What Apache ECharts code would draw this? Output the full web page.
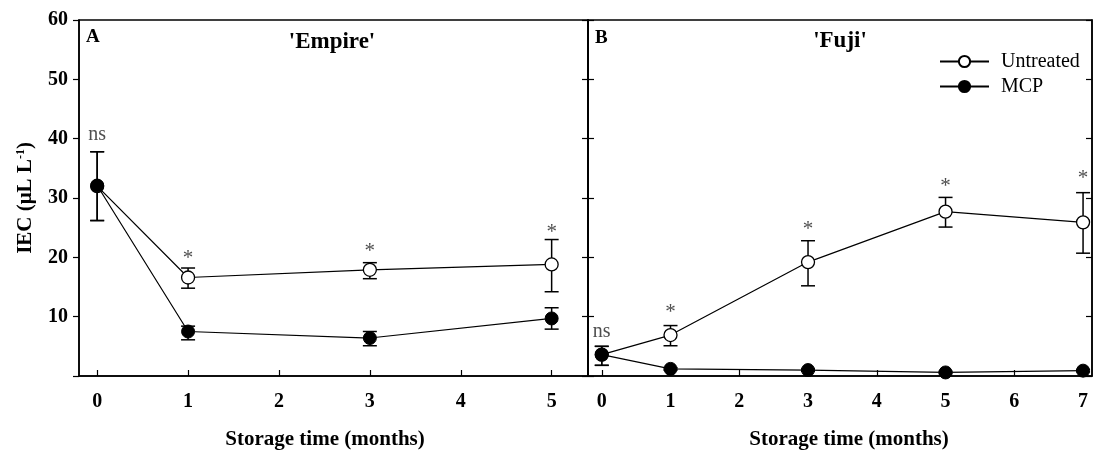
<!DOCTYPE html>
<html>
<head>
<meta charset="utf-8">
<script src="https://cdn.jsdelivr.net/npm/echarts@6/dist/echarts.min.js"></script>
<style>html,body{margin:0;padding:0;background:#fff}#c{width:1093px;height:450px}</style>
</head>
<body>
<div id="c"></div>
<script>
// ---- data ----
const empireMonths = [0, 1, 3, 5];
const empireUntreated = [32.0, 16.6, 17.9, 18.8];
const empireUntreatedLow = [26.2, 14.8, 16.4, 14.2];
const empireUntreatedHigh = [37.8, 18.2, 19.1, 23.0];
const empireMCP = [32.1, 7.5, 6.4, 9.7];
const empireMCPLow = [26.2, 6.1, 5.1, 7.9];
const empireMCPHigh = [37.8, 8.4, 7.5, 11.5];
const empireSig = ['ns', '*', '*', '*'];
const empireSigY = [40.6, 20.6, 21.8, 25.0];

const fujiMonths = [0, 1, 3, 5, 7];
const fujiUntreated = [3.6, 6.9, 19.2, 27.7, 25.9];
const fujiUntreatedLow = [1.8, 5.1, 15.2, 25.1, 20.7];
const fujiUntreatedHigh = [5.0, 8.5, 22.8, 30.1, 30.9];
const fujiMCP = [3.6, 1.2, 1.0, 0.6, 0.9];
const fujiMCPLow = [1.8, 1.0, 0.8, 0.4, 0.7];
const fujiMCPHigh = [5.0, 1.4, 1.2, 0.8, 1.1];
const fujiSig = ['ns', '*', '*', '*', '*'];
const fujiSigY = [7.4, 11.5, 25.5, 32.7, 34.2];

const empireTicks = [0, 1, 2, 3, 4, 5];
const fujiTicks = [0, 1, 2, 3, 4, 5, 6, 7];
const yTicks = [10, 20, 30, 40, 50, 60];

// ---- helpers ----
const SERIF = '"Liberation Serif", "Times New Roman", serif';
const pairs = (xs, ys) => xs.map((x, i) => [x, ys[i]]);
const triples = (xs, lo, hi) => xs.map((x, i) => [x, lo[i], hi[i]]);

function errRender(params, api) {
  const x = api.value(0);
  const lo = api.coord([x, api.value(1)]);
  const hi = api.coord([x, api.value(2)]);
  const cw = 7;
  const st = { stroke: '#000', lineWidth: 1.5, fill: null };
  return {
    type: 'group',
    children: [
      { type: 'line', shape: { x1: lo[0], y1: lo[1], x2: hi[0], y2: hi[1] }, style: st },
      { type: 'line', shape: { x1: hi[0] - cw, y1: hi[1], x2: hi[0] + cw, y2: hi[1] }, style: st },
      { type: 'line', shape: { x1: lo[0] - cw, y1: lo[1], x2: lo[0] + cw, y2: lo[1] }, style: st }
    ]
  };
}

function xAxisFor(gridIndex, min, max, ticks, padLeft) {
  return {
    type: 'value', gridIndex, min, max,
    axisLine: { show: true, onZero: false, lineStyle: { color: '#000', width: 1.5 } },
    axisTick: { show: true, inside: true, length: 6, customValues: ticks, lineStyle: { color: '#000', width: 1.2 } },
    axisLabel: { show: true, customValues: ticks, margin: 16, color: '#000', fontFamily: SERIF, fontWeight: 'bold', fontSize: 20 },
    splitLine: { show: false },
    name: 'Storage time (months)', nameLocation: 'middle', nameGap: 53,
    nameTextStyle: { color: '#000', fontFamily: SERIF, fontWeight: 'bold', fontSize: 21, padding: padLeft }
  };
}

function yAxisFor(gridIndex, position, showLabels, inside) {
  return {
    type: 'value', gridIndex, position, min: 0, max: 60, interval: 10,
    axisLine: { show: true, onZero: false, lineStyle: { color: '#000', width: 1.5 } },
    axisTick: { show: true, inside, length: 6, lineStyle: { color: '#000', width: 1.2 } },
    axisLabel: {
      show: showLabels, margin: 11, color: '#000', fontFamily: SERIF, fontWeight: 'bold', fontSize: 20,
      formatter: v => (yTicks.indexOf(v) >= 0 ? String(v) : '')
    },
    splitLine: { show: false }
  };
}

function seriesFor(gi, months, unt, untLo, untHi, mcp, mcpLo, mcpHi, sig, sigY) {
  const xi = gi, yi = gi * 2;
  const lineStyle = { color: '#000', width: 1.2 };
  return [
    { type: 'custom', name: 'errU' + gi, xAxisIndex: xi, yAxisIndex: yi, renderItem: errRender,
      data: triples(months, untLo, untHi), z: 1, silent: true },
    { type: 'custom', name: 'errM' + gi, xAxisIndex: xi, yAxisIndex: yi, renderItem: errRender,
      data: triples(months, mcpLo, mcpHi), z: 1, silent: true },
    { type: 'line', name: 'Untreated', xAxisIndex: xi, yAxisIndex: yi, data: pairs(months, unt),
      symbol: 'circle', symbolSize: 13, showAllSymbol: true, lineStyle,
      itemStyle: { color: '#fff', borderColor: '#000', borderWidth: 1.3 }, z: 3, animation: false },
    { type: 'line', name: 'MCP', xAxisIndex: xi, yAxisIndex: yi, data: pairs(months, mcp),
      symbol: 'circle', symbolSize: 13, showAllSymbol: true, lineStyle,
      itemStyle: { color: '#000', borderColor: '#000', borderWidth: 1 }, z: 4, animation: false },
    { type: 'scatter', name: 'sig' + gi, xAxisIndex: xi, yAxisIndex: yi, symbolSize: 0, z: 5,
      data: months.map((x, i) => ({ value: [x, sigY[i]], name: sig[i] })),
      label: {
        show: true, position: 'inside', formatter: p => p.name,
        fontFamily: SERIF, color: '#222'
      },
      animation: false
    }
  ];
}

const chart = echarts.init(document.getElementById('c'), null, { renderer: 'canvas' });

const sEmp = seriesFor(0, empireMonths, empireUntreated, empireUntreatedLow, empireUntreatedHigh,
  empireMCP, empireMCPLow, empireMCPHigh, empireSig, empireSigY);
const sFuji = seriesFor(1, fujiMonths, fujiUntreated, fujiUntreatedLow, fujiUntreatedHigh,
  fujiMCP, fujiMCPLow, fujiMCPHigh, fujiSig, fujiSigY);

// per-label font sizing for significance marks
[sEmp[4], sFuji[4]].forEach(s => {
  s.data.forEach(d => {
    d.label = d.name === '*' ? { fontSize: 21, offset: [0, 5] } : { fontSize: 20 };
  });
});

const gridBase = { show: true, borderColor: '#000', borderWidth: 1.5, outerBoundsMode: 'none', containLabel: false };

const option = {
  backgroundColor: '#fff',
  animation: false,
  grid: [
    Object.assign({ left: 79, top: 20, width: 509, height: 356 }, gridBase),
    Object.assign({ left: 588, top: 20, width: 504, height: 356 }, gridBase)
  ],
  xAxis: [
    xAxisFor(0, -0.2, 5.4, empireTicks, [0, 17, 0, 0]),
    xAxisFor(1, -0.2, 7.13, fujiTicks, [0, 0, 0, 18])
  ],
  yAxis: [
    Object.assign(yAxisFor(0, 'left', true, false), {
      name: 'IEC ({b|μL L}{sup|-1}{b|)}', nameLocation: 'middle', nameGap: 42, nameRotate: 90,
      nameTextStyle: {
        color: '#000', fontFamily: SERIF, fontWeight: 'bold', fontSize: 21,
        rich: {
          b: { fontFamily: SERIF, fontWeight: 'bold', fontSize: 21, color: '#000' },
          sup: { fontFamily: SERIF, fontWeight: 'bold', fontSize: 12, color: '#000', verticalAlign: 'top', padding: [0, 0, 10, 0] }
        }
      }
    }),
    yAxisFor(0, 'right', false, true),
    yAxisFor(1, 'left', false, true),
    yAxisFor(1, 'right', false, true)
  ],
  legend: {
    data: ['Untreated', 'MCP'], orient: 'vertical', left: 934, top: 46,
    itemWidth: 49, itemHeight: 14, itemGap: 4,
    textStyle: { fontFamily: SERIF, fontSize: 20, color: '#000', lineHeight: 21, padding: [0, 0, 0, 7] },
    selectedMode: false
  },
  graphic: [
    { type: 'text', left: 86, top: 28, style: { text: 'A', fontFamily: SERIF, fontWeight: 'bold', fontSize: 19, fill: '#000' } },
    { type: 'text', left: 595, top: 29, style: { text: 'B', fontFamily: SERIF, fontWeight: 'bold', fontSize: 19, fill: '#000' } },
    { type: 'text', x: 332, y: 42, style: { text: "'Empire'", fontFamily: SERIF, fontWeight: 'bold', fontSize: 23, fill: '#000', align: 'center', verticalAlign: 'middle' } },
    { type: 'text', x: 840, y: 41, style: { text: "'Fuji'", fontFamily: SERIF, fontWeight: 'bold', fontSize: 23, fill: '#000', align: 'center', verticalAlign: 'middle' } }
  ],
  series: sEmp.concat(sFuji)
};
chart.setOption(option);
</script>
</body>
</html>
